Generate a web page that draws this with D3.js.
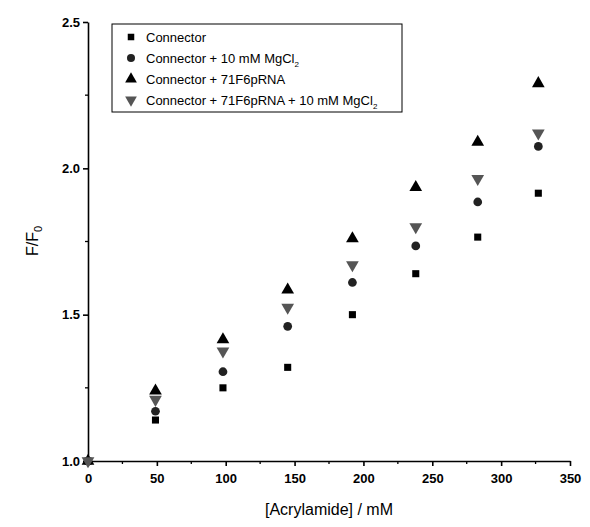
<!DOCTYPE html>
<html><head><meta charset="utf-8">
<script src="https://cdn.jsdelivr.net/npm/d3@7"></script>
<style>body{margin:0;background:#fff}text{font-family:Arial,"Liberation Sans",sans-serif;fill:#000}</style>
</head><body><svg id="c" width="590" height="527"></svg>
<script>
var xs = [0, 49, 98, 145, 192, 238, 283, 327]
var connector = [1.0, 1.14, 1.25, 1.32, 1.50, 1.64, 1.765, 1.915]
var connMg = [1.0, 1.17, 1.305, 1.46, 1.61, 1.735, 1.885, 2.075]
var connRna = [1.0, 1.24, 1.415, 1.585, 1.76, 1.935, 2.09, 2.29]
var connRnaMg = [1.0, 1.21, 1.375, 1.525, 1.67, 1.80, 1.965, 2.12]
var xTicks = [0, 50, 100, 150, 200, 250, 300, 350]
var yTicks = [1.0, 1.5, 2.0, 2.5]

var svg = d3.select("#c")
var x = d3.scaleLinear().domain([0, 350]).range([88, 570])
var y = d3.scaleLinear().domain([1, 2.5]).range([461, 22])

var series = [
  {name: "Connector", vals: connector, sym: d3.symbolSquare, color: "#000", size: 50, rot: 0},
  {name: "Connector + 10 mM MgCl", sub: "2", vals: connMg, sym: d3.symbolCircle, color: "#222", size: 60, rot: 0},
  {name: "Connector + 71F6pRNA", vals: connRna, sym: d3.symbolTriangle, color: "#000", size: 70, rot: 0},
  {name: "Connector + 71F6pRNA + 10 mM MgCl", sub: "2", vals: connRnaMg, sym: d3.symbolTriangle, color: "#555", size: 70, rot: 180}
]

var xa = svg.append("g").attr("transform", "translate(0,461)")
  .call(d3.axisBottom(x).tickValues(xTicks).tickFormat(d3.format("d")).tickSize(5).tickSizeOuter(0))
var ya = svg.append("g").attr("transform", "translate(88,0)")
  .call(d3.axisLeft(y).tickValues(yTicks).tickFormat(d3.format(".1f")).tickSize(5).tickSizeOuter(0))
// minor ticks
svg.append("g").selectAll("line").data(d3.range(25, 350, 50)).join("line")
  .attr("x1", d => x(d)).attr("x2", d => x(d)).attr("y1", 461).attr("y2", 464).attr("stroke", "#000").attr("stroke-width", 1.3)
svg.append("g").selectAll("line").data([1.25, 1.75, 2.25]).join("line")
  .attr("y1", d => y(d)).attr("y2", d => y(d)).attr("x1", 88).attr("x2", 85).attr("stroke", "#000").attr("stroke-width", 1.3)
svg.selectAll(".domain,.tick line").attr("stroke", "#000").attr("stroke-width", 1.6)
svg.selectAll(".tick text").attr("font-size", 13).attr("font-weight", "bold").attr("fill", "#000")
xa.selectAll(".tick text").attr("dy", "1.1em")

svg.append("text").attr("x", 329).attr("y", 515).attr("text-anchor", "middle").attr("font-size", 16).text("[Acrylamide] / mM")
var yl = svg.append("text").attr("transform", "translate(38,241) rotate(-90)").attr("text-anchor", "middle").attr("font-size", 16)
yl.append("tspan").text("F/F")
yl.append("tspan").attr("font-size", 11).attr("dy", 4).text("0")

series.forEach(function(s) {
  svg.append("g").selectAll("path").data(s.vals).join("path")
    .attr("d", d3.symbol().type(s.sym).size(s.size))
    .attr("transform", (d, i) => "translate(" + x(xs[i]) + "," + y(d) + ") rotate(" + s.rot + ")")
    .attr("fill", s.color)
})

var lg = svg.append("g").attr("transform", "translate(112,24)")
lg.append("rect").attr("width", 290).attr("height", 88).attr("fill", "#fff").attr("stroke", "#000")
series.forEach(function(s, i) {
  var yy = 13 + i * 21
  lg.append("path").attr("d", d3.symbol().type(s.sym).size(s.size * 0.85)())
    .attr("transform", "translate(19," + yy + ") rotate(" + s.rot + ")").attr("fill", s.color)
  var t = lg.append("text").attr("x", 34).attr("y", yy + 4.5).attr("font-size", 13).text(s.name)
  if (s.sub) t.append("tspan").attr("font-size", 8).attr("dy", 4).text(s.sub)
})
</script></body></html>
